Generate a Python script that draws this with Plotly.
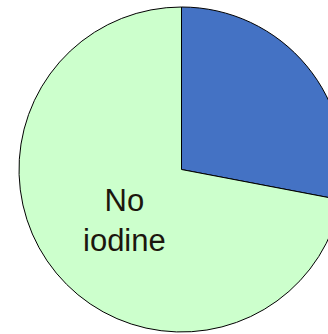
import plotly.graph_objects as go

# Share of households by iodine status
labels = ["Iodine", "No iodine"]
values = [28, 72]
colors = ["#4472C4", "#CCFFCC"]

W, H = 400, 334
cx, cy, r = 181.5, 169.5, 162.5

fig = go.Figure(
    go.Pie(
        labels=labels,
        values=values,
        sort=False,
        direction="clockwise",
        rotation=0,
        marker=dict(colors=colors, line=dict(color="#000000", width=1)),
        textinfo="none",
        hoverinfo="label+percent",
        showlegend=False,
        domain=dict(
            x=[(cx - r) / W, (cx + r) / W],
            y=[(H - cy - r) / H, (H - cy + r) / H],
        ),
    )
)

fig.add_annotation(
    x=124 / W, y=(H - 220) / H, xref="paper", yref="paper",
    text="No<br>iodine", showarrow=False,
    font=dict(family="Liberation Sans, Arial, sans-serif", size=31, color="#1c160e"),
    xanchor="center", yanchor="middle",
)

fig.update_layout(
    width=W, height=H,
    margin=dict(l=0, r=0, t=0, b=0),
    paper_bgcolor="white",
    plot_bgcolor="white",
)

fig.write_html("out.html")
